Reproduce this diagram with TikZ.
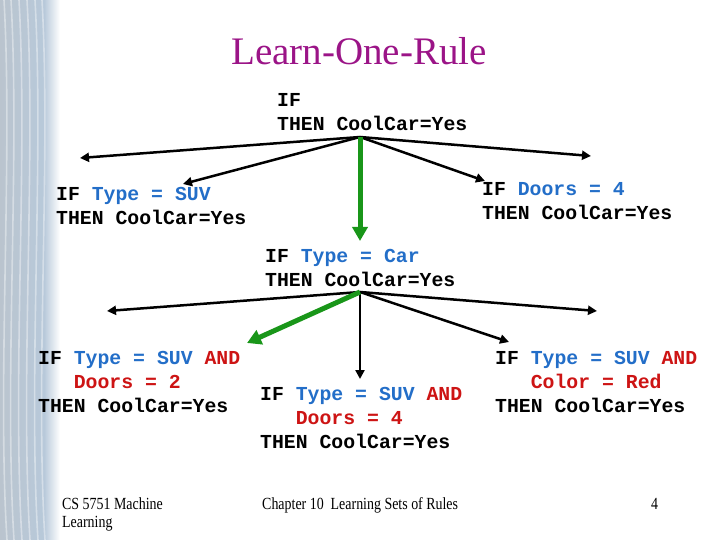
\documentclass[tikz,border=0pt]{standalone}
\usepackage{fontspec}
\setmainfont{Liberation Serif}
\setmonofont{Liberation Mono}
\newfontfamily\footfont[FakeStretch=0.82]{Liberation Serif}
\usetikzlibrary{arrows.meta}
\definecolor{titlepurple}{RGB}{155,20,135}
\definecolor{condblue}{RGB}{35,110,200}
\definecolor{condred}{RGB}{205,20,20}
\definecolor{pathgreen}{RGB}{25,150,25}
\definecolor{waterblue}{RGB}{184,201,218}
\newcommand{\att}[1]{\textcolor{condblue}{#1}}
\newcommand{\cnd}[1]{\textcolor{condred}{#1}}
\newcommand{\ind}{\hphantom{XXX}}
\newcommand{\thenyes}{THEN CoolCar=Yes}
\tikzset{
  rule/.style={font=\fontsize{19.8}{24}\selectfont\ttfamily\bfseries, align=left, inner sep=0pt, anchor=base west},
  spec/.style={line width=2.5pt, -{Triangle[length=9pt,width=9pt]}},
  best/.style={line width=5pt, draw=pathgreen, -{Triangle[length=14pt,width=15pt]}},
  foot/.style={font=\fontsize{17}{18}\selectfont\footfont, inner sep=0pt, anchor=base west, align=left},
}
\begin{document}
\begin{tikzpicture}[x=1pt,y=-1pt]
    \useasboundingbox (0,0) rectangle (720,540);
    % water strip on the left
    \shade[left color=waterblue!85!black!70!white, right color=waterblue] (0,0) rectangle (44,540);
    \shade[left color=waterblue, right color=white] (44,0) rectangle (60,540);
    \foreach \x in {4,11,19,27,35,42} {
      \draw[white, opacity=0.4, line width=1.6pt] (\x,0) .. controls (\x+9,160) and (\x-7,380) .. (\x+3,540);
    };

    \node[font=\fontsize{39}{40}\selectfont, text=titlepurple, inner sep=0pt, anchor=base] (title) at (359,65) {Learn-One-Rule};

    % first step (base anchor sits on the last line)
    \node[rule] (root) at (277,131) {IF\\\thenyes};
    \coordinate (hub1) at (360,137);
    \node[rule] (suv) at (56,225) {IF \att{Type = SUV}\\\thenyes};
    \node[rule] (doors) at (482,219) {IF \att{Doors = 4}\\\thenyes};
    \node[rule] (car) at (265,286) {IF \att{Type = Car}\\\thenyes};
    \coordinate (a1) at (80,158);
    \coordinate (a2) at (183,184);
    \coordinate (a3) at (360,241);
    \coordinate (a4) at (485,181);
    \coordinate (a5) at (591,156);
    \draw[spec] (hub1) -- (a1);
    \draw[spec] (hub1) -- (a2);
    \draw[spec] (hub1) -- (a4);
    \draw[spec] (hub1) -- (a5);
    \draw[best] (hub1) -- (a3);

    % second step
    \coordinate (hub2) at (360,292);
    \node[rule] (suvtwo) at (38,412) {IF \att{Type = SUV} \cnd{AND}\\\ind\cnd{Doors = 2}\\\thenyes};
    \node[rule] (suvfour) at (260,448) {IF \att{Type = SUV} \cnd{AND}\\\ind\cnd{Doors = 4}\\\thenyes};
    \node[rule] (suvred) at (495,412) {IF \att{Type = SUV} \cnd{AND}\\\ind\cnd{Color = Red}\\\thenyes};
    \coordinate (b1) at (107,311);
    \coordinate (b2) at (247,343);
    \coordinate (b3) at (360,379);
    \coordinate (b4) at (509,342);
    \coordinate (b5) at (597,311);
    \draw[spec] (hub2) -- (b1);
    \draw[spec] (hub2) -- (b3);
    \draw[spec] (hub2) -- (b4);
    \draw[spec] (hub2) -- (b5);
    \draw[best] (hub2) -- (b2);

    % footer
    \node[foot] (course) at (62,527) {CS 5751 Machine\\Learning};
    \node[foot] (chapter) at (262,509) {Chapter 10\ \ Learning Sets of Rules};
    \node[foot] (page) at (651,509) {4};
\end{tikzpicture}
\end{document}
